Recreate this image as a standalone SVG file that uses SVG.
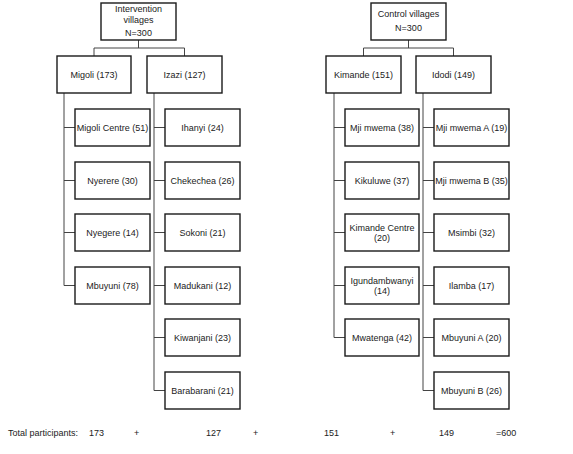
<svg xmlns="http://www.w3.org/2000/svg" width="573" height="454" viewBox="0 0 573 454">
<style>
rect.b{fill:#fff;stroke:#1a1a1a;stroke-width:1.4}
text{font-family:"Liberation Sans",Arial,sans-serif;font-size:9px;fill:#222;text-anchor:middle}
.c{fill:none;stroke:#444;stroke-width:1}
.t{text-anchor:start}
</style>
<rect width="573" height="454" fill="#fff"/>
<g id="connectors" class="c">
<path d="M138.5 40V48M94 48H184.5M94 48V56M184.5 48V56"/>
<path d="M408.5 40V48M363.5 48H453.5M363.5 48V56M453.5 48V56"/>
<path d="M64 93V285.5M64 127.5H75M64 180.5H75M64 232.5H75M64 285.5H75"/>
<path d="M154 93V390.5M154 127.5H165M154 180.5H165M154 232.5H165M154 285.5H165M154 337.5H165M154 390.5H165"/>
<path d="M334 93V337.5M334 127.5H345M334 180.5H345M334 232.5H345M334 285.5H345M334 337.5H345"/>
<path d="M423 93V390.5M423 127.5H434M423 180.5H434M423 232.5H434M423 285.5H434M423 337.5H434M423 390.5H434"/>
</g>
<g id="intervention"><rect class="b" x="101" y="3" width="75" height="37"/><text x="138.5" y="12">Intervention</text><text x="138.5" y="23">villages</text><text x="138.5" y="36">N=300</text></g>
<g id="control"><rect class="b" x="371" y="3" width="75" height="37"/><text x="408.5" y="17">Control villages</text><text x="408.5" y="31">N=300</text></g>
<g id="migoli"><rect class="b" x="57" y="56" width="74" height="37"/><text x="94" y="77.5">Migoli (173)</text></g>
<g id="izazi"><rect class="b" x="147" y="56" width="75" height="37"/><text x="184.5" y="77.5">Izazi (127)</text></g>
<g id="kimande"><rect class="b" x="326" y="56" width="75" height="37"/><text x="363.5" y="77.5">Kimande  (151)</text></g>
<g id="idodi"><rect class="b" x="416" y="56" width="75" height="37"/><text x="453.5" y="77.5">Idodi (149)</text></g>

<g id="migoli-centre"><rect class="b" x="75" y="109" width="75" height="37"/><text x="112.5" y="130.5">Migoli Centre (51)</text></g>
<g id="nyerere"><rect class="b" x="75" y="162" width="75" height="37"/><text x="112.5" y="183.5">Nyerere (30)</text></g>
<g id="nyegere"><rect class="b" x="75" y="214" width="75" height="37"/><text x="112.5" y="235.5">Nyegere (14)</text></g>
<g id="mbuyuni"><rect class="b" x="75" y="267" width="75" height="37"/><text x="112.5" y="288.5">Mbuyuni  (78)</text></g>

<g id="ihanyi"><rect class="b" x="165" y="109" width="75" height="37"/><text x="202.5" y="130.5">Ihanyi (24)</text></g>
<g id="chekechea"><rect class="b" x="165" y="162" width="75" height="37"/><text x="202.5" y="183.5">Chekechea  (26)</text></g>
<g id="sokoni"><rect class="b" x="165" y="214" width="75" height="37"/><text x="202.5" y="235.5">Sokoni  (21)</text></g>
<g id="madukani"><rect class="b" x="165" y="267" width="75" height="37"/><text x="202.5" y="288.5">Madukani (12)</text></g>
<g id="kiwanjani"><rect class="b" x="165" y="319" width="75" height="37"/><text x="202.5" y="340.5">Kiwanjani  (23)</text></g>
<g id="barabarani"><rect class="b" x="165" y="372" width="75" height="37"/><text x="202.5" y="393.5">Barabarani (21)</text></g>

<g id="mji-mwema"><rect class="b" x="345" y="109" width="74" height="37"/><text x="382" y="130.5">Mji mwema  (38)</text></g>
<g id="kikuluwe"><rect class="b" x="345" y="162" width="74" height="37"/><text x="382" y="183.5">Kikuluwe  (37)</text></g>
<g id="kimande-centre"><rect class="b" x="345" y="214" width="74" height="37"/><text x="382" y="230.5">Kimande Centre</text><text x="382" y="240.5">(20)</text></g>
<g id="igundambwanyi"><rect class="b" x="345" y="267" width="74" height="37"/><text x="382" y="283.5">Igundambwanyi</text><text x="382" y="294">(14)</text></g>
<g id="mwatenga"><rect class="b" x="345" y="319" width="74" height="37"/><text x="382" y="340.5">Mwatenga  (42)</text></g>

<g id="mji-mwema-a"><rect class="b" x="434" y="109" width="75" height="37"/><text x="471.5" y="130.5">Mji mwema A  (19)</text></g>
<g id="mji-mwema-b"><rect class="b" x="434" y="162" width="75" height="37"/><text x="471.5" y="183.5">Mji mwema B (35)</text></g>
<g id="msimbi"><rect class="b" x="434" y="214" width="75" height="37"/><text x="471.5" y="235.5">Msimbi (32)</text></g>
<g id="ilamba"><rect class="b" x="434" y="267" width="75" height="37"/><text x="471.5" y="288.5">Ilamba  (17)</text></g>
<g id="mbuyuni-a"><rect class="b" x="434" y="319" width="75" height="37"/><text x="471.5" y="340.5">Mbuyuni A (20)</text></g>
<g id="mbuyuni-b"><rect class="b" x="434" y="372" width="75" height="37"/><text x="471.5" y="393.5">Mbuyuni B (26)</text></g>

<g id="totals">
<text class="t" x="8" y="436">Total participants:</text>
<text class="t" x="89" y="436">173</text>
<text class="t" x="134" y="436">+</text>
<text class="t" x="206" y="436">127</text>
<text class="t" x="253" y="436">+</text>
<text class="t" x="324" y="436">151</text>
<text class="t" x="390" y="436">+</text>
<text class="t" x="439" y="436">149</text>
<text class="t" x="496" y="436">=600</text>
</g>
</svg>
